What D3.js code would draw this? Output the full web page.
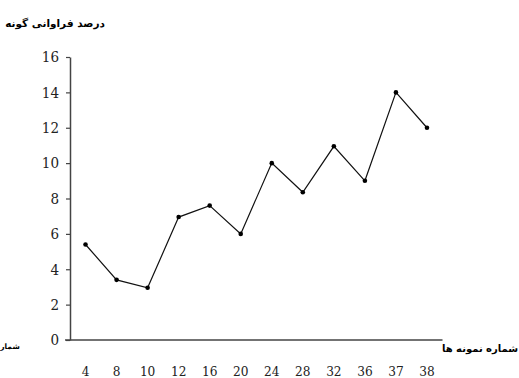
<!DOCTYPE html>
<html>
<head>
<meta charset="utf-8">
<script src="https://cdn.jsdelivr.net/npm/d3@7"></script>
<style>
  html, body { margin: 0; padding: 0; background: #fff; }
  svg { display: block; }
  .num text { font-family: "DejaVu Serif", serif; font-stretch: condensed; }
</style>
</head>
<body>
<svg id="chart" width="519" height="378"></svg>
<script>
// Sample numbers along the x axis and species frequency (%) for each sample
const samples = ["4", "8", "10", "12", "16", "20", "24", "28", "32", "36", "37", "38"];
const frequency = [5.4, 3.4, 2.95, 6.95, 7.6, 6.0, 10.0, 8.35, 10.95, 9.0, 14.0, 12.0];
const yTicks = [0, 2, 4, 6, 8, 10, 12, 14, 16];

const yTitle = "درصد فراوانی گونه";
const xTitle = "شماره نمونه ها";
const cutLabel = "شمار";

const arabic = "DejaVu Sans, sans-serif";

const svg = d3.select("#chart");

const x = d3.scaleBand().domain(samples).range([70, 442.5]);
const y = d3.scaleLinear().domain([0, 16]).range([340, 57]);

// y axis: ticks to the left, serif numbers
const yAxis = svg.append("g")
  .attr("class", "num")
  .attr("transform", "translate(70,0)")
  .call(d3.axisLeft(y).tickValues(yTicks).tickSize(4).tickPadding(7).tickSizeOuter(0))
  .attr("font-family", null)
  .attr("font-size", 15);
yAxis.select(".domain").attr("stroke", "#444").attr("stroke-width", 1.5);
yAxis.selectAll(".tick line").attr("stroke", "#444").attr("stroke-width", 1.2);
yAxis.selectAll(".tick text").attr("fill", "#222");

// x axis: baseline without tick marks, labels well below
const xAxis = svg.append("g")
  .attr("class", "num")
  .attr("transform", "translate(0,340)")
  .call(d3.axisBottom(x).tickSize(0).tickPadding(26).tickSizeOuter(0))
  .attr("font-family", null)
  .attr("font-size", 13.5);
xAxis.select(".domain").attr("d", "M65,0H442.5").attr("stroke", "#444").attr("stroke-width", 1.5);
xAxis.selectAll(".tick text").attr("fill", "#222");

const cx = d => x(d) + x.bandwidth() / 2;
const pts = samples.map((s, i) => [cx(s), y(frequency[i])]);

svg.append("path")
  .attr("d", d3.line()(pts))
  .attr("fill", "none")
  .attr("stroke", "#111")
  .attr("stroke-width", 1.2);

svg.append("g").selectAll("circle")
  .data(pts)
  .join("circle")
  .attr("cx", d => d[0])
  .attr("cy", d => d[1])
  .attr("r", 2.3)
  .attr("fill", "#000");

// Titles
svg.append("text")
  .attr("x", 55).attr("y", 27)
  .attr("text-anchor", "middle")
  .attr("font-family", arabic).attr("font-weight", "bold").attr("font-size", 10.5)
  .text(yTitle);

svg.append("text")
  .attr("x", 480).attr("y", 352)
  .attr("text-anchor", "middle")
  .attr("font-family", arabic).attr("font-weight", "bold").attr("font-size", 10)
  .text(xTitle);

svg.append("text")
  .attr("x", 10).attr("y", 349)
  .attr("text-anchor", "middle")
  .attr("font-family", arabic).attr("font-weight", "bold").attr("font-size", 7.5)
  .text(cutLabel);
</script>
</body>
</html>
